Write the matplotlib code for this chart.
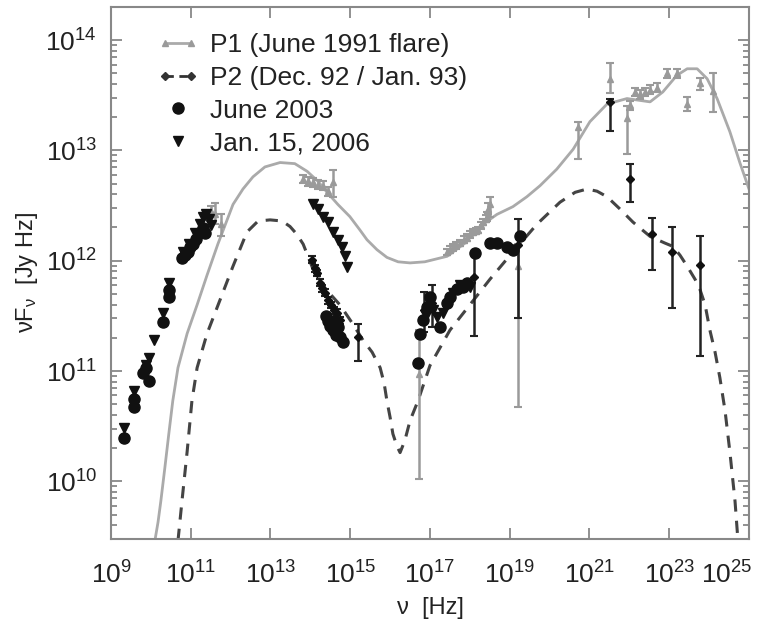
import numpy as np
import matplotlib
matplotlib.use('Agg')
import matplotlib.pyplot as plt
from matplotlib.lines import Line2D
from matplotlib.legend_handler import HandlerLine2D
from matplotlib.transforms import ScaledTranslation
from matplotlib.ticker import FixedLocator, LogLocator, LogFormatterMathtext, NullLocator

plt.rcParams['font.family'] = ['Liberation Sans', 'DejaVu Sans']
plt.rcParams['mathtext.default'] = 'regular'

## Model curves (log10 nu, log10 nuFnu)
p1_model_x = [10.10, 10.18, 10.25, 10.35, 10.45, 10.55, 10.68, 10.91, 11.16, 11.41, 11.68, 12.06,
              12.31, 12.56, 12.86, 13.24, 13.61, 13.92, 14.19, 14.42, 14.69, 14.99, 15.24,
              15.42, 15.67, 15.92, 16.20, 16.50, 16.87, 17.43, 17.88, 18.25, 18.68, 19.08,
              19.43, 19.76, 20.18, 20.59, 21.01, 21.44, 21.94, 22.52, 22.84, 23.19, 23.45,
              23.70, 23.95, 24.20, 24.52, 24.77, 25.0]
p1_model_y = [9.46, 9.63, 9.82, 10.12, 10.43, 10.73, 11.03, 11.34, 11.60, 11.87, 12.15, 12.51,
              12.65, 12.76, 12.85, 12.89, 12.88, 12.81, 12.72, 12.62, 12.51, 12.40, 12.28,
              12.19, 12.10, 12.03, 11.99, 11.98, 11.99, 12.04, 12.16, 12.31, 12.42, 12.49,
              12.58, 12.68, 12.83, 13.01, 13.26, 13.42, 13.47, 13.44, 13.53, 13.68, 13.74,
              13.74, 13.65, 13.47, 13.17, 12.89, 12.65]

p2_model_x = [10.68, 10.78, 10.91, 11.03, 11.16, 11.41, 11.73, 12.06, 12.41, 12.69, 12.99, 13.29,
              13.49, 13.66, 13.82, 13.94, 14.07, 14.37, 14.74, 15.04, 15.32, 15.55, 15.75,
              15.85, 15.92, 16.0, 16.07, 16.17, 16.25, 16.37, 16.5, 16.7, 17.0, 17.5, 18.0,
              18.5, 19.01, 19.68, 20.26, 20.64, 20.94, 21.19, 21.44, 21.76, 22.09, 22.52,
              22.89, 23.09, 23.27, 23.45, 23.65, 23.77, 23.90, 24.02, 24.15, 24.27, 24.40,
              24.52, 24.65, 24.72]
p2_model_y = [9.46, 9.82, 10.27, 10.73, 11.03, 11.34, 11.64, 11.95, 12.26, 12.36, 12.37, 12.36,
              12.31, 12.24, 12.15, 12.04, 11.92, 11.75, 11.60, 11.44, 11.28, 11.17, 11.03,
              10.89, 10.73, 10.58, 10.43, 10.32, 10.26, 10.37, 10.55, 10.73, 11.05, 11.37, 11.60,
              11.83, 12.05, 12.33, 12.53, 12.62, 12.65, 12.63, 12.58, 12.47, 12.35, 12.22,
              12.16, 12.13, 12.05, 11.95, 11.83, 11.74, 11.60, 11.37, 11.17, 10.94, 10.64,
              10.27, 9.82, 9.48]

## P1 data (June 1991 flare): log nu, log F, upper, lower
p1_x = [11.50, 11.62, 11.76, 13.82, 13.95, 14.07, 14.2, 14.32, 14.45, 14.57,
        16.72, 17.43, 17.5, 17.58, 17.66, 17.75, 17.85, 17.93, 18.0, 18.08, 18.15, 18.2,
        18.28, 18.33, 18.4, 18.43, 18.45, 18.5, 19.2,
        20.71, 21.51, 21.94, 22.02, 22.14, 22.27, 22.39, 22.52, 22.69, 22.94, 23.19,
        23.45, 23.77, 24.1]
p1_y = [12.45, 12.42, 12.33, 12.74, 12.72, 12.71, 12.69, 12.68, 12.63, 12.71,
        10.97, 12.08, 12.1, 12.12, 12.14, 12.16, 12.19, 12.21, 12.24, 12.26, 12.27, 12.28,
        12.32, 12.35, 12.38, 12.4, 12.47, 12.51, 11.95,
        13.21, 13.65, 13.29, 13.41, 13.53, 13.51, 13.53, 13.55, 13.57, 13.7, 13.7,
        13.42, 13.61, 13.54]
p1_hi = [12.5, 12.52, 12.42, 12.78, 12.76, 12.75, 12.73, 12.72, 12.67, 12.82,
         11.37, 12.11, 12.13, 12.15, 12.17, 12.19, 12.22, 12.24, 12.27, 12.29, 12.3, 12.31,
         12.35, 12.38, 12.41, 12.44, 12.52, 12.58, 12.15,
         13.26, 13.79, 13.4, 13.45, 13.57, 13.55, 13.57, 13.59, 13.61, 13.74, 13.74,
         13.48, 13.66, 13.7]
p1_lo = [12.4, 12.33, 12.22, 12.7, 12.68, 12.67, 12.65, 12.64, 12.59, 12.58,
         10.02, 12.05, 12.07, 12.09, 12.11, 12.13, 12.16, 12.18, 12.21, 12.23, 12.24, 12.25,
         12.29, 12.32, 12.35, 12.36, 12.42, 12.4, 10.67,
         12.92, 13.52, 12.97, 13.37, 13.49, 13.47, 13.49, 13.51, 13.53, 13.66, 13.66,
         13.36, 13.55, 13.35]

## P2 data (Dec. 92 / Jan. 93)
p2_x = [14.04, 14.12, 14.17, 14.24, 14.3, 14.37, 14.44, 14.52, 14.6, 14.67, 14.74, 15.19,
        16.85, 17.05, 18.1, 19.2, 21.51, 22.02, 22.57, 23.07, 23.77]
p2_y = [12.01, 11.93, 11.89, 11.8, 11.75, 11.71, 11.64, 11.6, 11.55, 11.53, 11.46, 11.31,
        11.55, 11.62, 11.85, 12.14, 13.44, 12.74, 12.24, 12.08, 11.96]
p2_hi = [12.04, 11.96, 11.92, 11.83, 11.78, 11.74, 11.67, 11.63, 11.58, 11.56, 11.49, 11.43,
         11.72, 11.78, 12.08, 12.38, 13.47, 12.88, 12.39, 12.31, 12.22]
p2_lo = [11.98, 11.9, 11.86, 11.77, 11.72, 11.68, 11.61, 11.57, 11.52, 11.5, 11.43, 11.09,
         11.35, 11.4, 11.32, 11.48, 13.18, 12.53, 11.92, 11.57, 11.14]

## June 2003
jun03_x = [9.33, 9.58, 9.58, 9.8, 9.88, 9.95, 10.3, 10.45, 10.45,
           10.78, 10.85, 10.92, 10.98, 11.05, 11.12, 11.2, 11.3, 11.35,
           14.4, 14.45, 14.5, 14.57, 14.65, 14.74, 14.82, 14.7, 14.6,
           16.7, 16.75, 16.82, 16.92, 17.0, 17.25, 17.43, 17.5, 17.68, 17.83, 17.93,
           18.13, 18.5, 18.68, 18.93, 19.08, 19.26]
jun03_y = [10.39, 10.67, 10.75, 10.98, 11.03, 10.91, 11.44, 11.67, 11.73,
           12.02, 12.05, 12.08, 12.12, 12.15, 12.2, 12.25, 12.3, 12.25,
           11.5, 11.45, 11.41, 11.37, 11.33, 11.31, 11.26, 11.4, 11.45,
           11.07, 11.34, 11.46, 11.58, 11.67, 11.4, 11.62, 11.67, 11.74, 11.76, 11.8,
           12.07, 12.16, 12.16, 12.12, 12.1, 12.22]

## Jan. 15, 2006
jan06_x = [9.33, 9.58, 9.88, 9.95, 10.08, 10.3, 10.45,
           10.8, 10.95, 11.1, 11.22, 11.3, 11.38, 11.45, 11.5,
           14.07, 14.19, 14.32, 14.44, 14.57, 14.69, 14.79, 14.87, 14.92,
           16.9, 17.08, 17.18, 17.33, 17.58, 17.75, 18.0]
jan06_y = [10.48, 10.82, 11.05, 11.12, 11.28, 11.53, 11.8,
           12.08, 12.15, 12.25, 12.33, 12.4, 12.42, 12.38, 12.32,
           12.51, 12.47, 12.4, 12.35, 12.26, 12.19, 12.12, 12.04, 11.94,
           11.5, 11.55, 11.49, 11.53, 11.71, 11.78, 11.76]

x_ticks = [9, 11, 13, 15, 17, 19, 21, 23, 25]


def lin(v):
    return 10.0 ** np.asarray(v, dtype=float)


def yerr(y, hi, lo):
    y = lin(y)
    return [y - lin(lo), lin(hi) - y]


gray = '#9a9a9a'

fig = plt.figure(figsize=(7.67, 6.26), dpi=100)
ax = fig.add_axes([0.1447, 0.139, 0.8318, 0.85])

ax.plot(lin(p1_model_x), lin(p1_model_y), color='#aaaaaa', lw=2.0, zorder=2)
ax.plot(lin(p2_model_x), lin(p2_model_y), color='#444444', lw=2.2, ls=(0, (4, 3)), zorder=2)

ax.errorbar(lin(p1_x), lin(p1_y), yerr=yerr(p1_y, p1_hi, p1_lo), fmt='^', ms=5,
            color=gray, mfc=gray, mec=gray, ecolor=gray, elinewidth=1.8, capsize=3, capthick=1.5, zorder=3)
ax.errorbar(lin(p2_x), lin(p2_y), yerr=yerr(p2_y, p2_hi, p2_lo), fmt='D', ms=4.5,
            color='#111111', ecolor='#222222', elinewidth=1.8, capsize=3, capthick=1.5, zorder=4)
ax.plot(lin(jun03_x), lin(jun03_y), 'o', ms=8, color='#111111', zorder=5)
ax.plot(lin(jan06_x), lin(jan06_y), 'v', ms=7, color='#111111', zorder=5)

ax.set_xscale('log')
ax.set_yscale('log')
ax.set_xlim(1e9, 1e25)
ax.set_ylim(3e9, 2e14)
ax.xaxis.set_major_locator(FixedLocator(lin(x_ticks)))
ax.xaxis.set_major_formatter(LogFormatterMathtext(base=10.0))
ax.xaxis.set_minor_locator(NullLocator())
ax.yaxis.set_major_locator(LogLocator(base=10.0))
ax.yaxis.set_minor_locator(LogLocator(base=10.0, subs=np.arange(2, 10)))

for s in ax.spines.values():
    s.set_color('#888888')
    s.set_linewidth(1.5)
ax.tick_params(which='both', direction='in', top=True, right=True, color='#888888', width=1.3)
ax.tick_params(which='major', length=8, labelsize=19, labelcolor='#222222', pad=10)
ax.tick_params(axis='x', which='major', pad=16)
ax.tick_params(which='minor', length=4)

## nudge the last x label so it stays inside the figure
last = ax.xaxis.get_major_ticks()[-1].label1
last.set_transform(last.get_transform() + ScaledTranslation(-16 / 72, 0, fig.dpi_scale_trans))

ax.set_xlabel('ν  [Hz]', fontsize=17, color='#222222', labelpad=6)
ax.set_ylabel('νF$_ν$  [Jy Hz]', fontsize=17, color='#222222', labelpad=4)

handles = [
    Line2D([], [], color='#aaaaaa', lw=2, marker='^', ms=5, mfc=gray, mec=gray),
    Line2D([], [], color='#333333', lw=2, ls=(0, (3, 2)), marker='D', ms=4),
    Line2D([], [], ls='none', marker='o', ms=8, color='#111111'),
    Line2D([], [], ls='none', marker='v', ms=7, color='#111111'),
]
labels = ['P1 (June 1991 flare)', 'P2 (Dec. 92 / Jan. 93)', 'June 2003', 'Jan. 15, 2006']
ax.legend(handles, labels, loc='upper left', bbox_to_anchor=(0.035, 0.995), frameon=False,
          fontsize=19, handlelength=1.6, handletextpad=0.4, labelspacing=0.33, numpoints=2,
          handler_map={handles[2]: HandlerLine2D(numpoints=1), handles[3]: HandlerLine2D(numpoints=1)},
          labelcolor='#222222')

fig.savefig('out.png', dpi=100)
